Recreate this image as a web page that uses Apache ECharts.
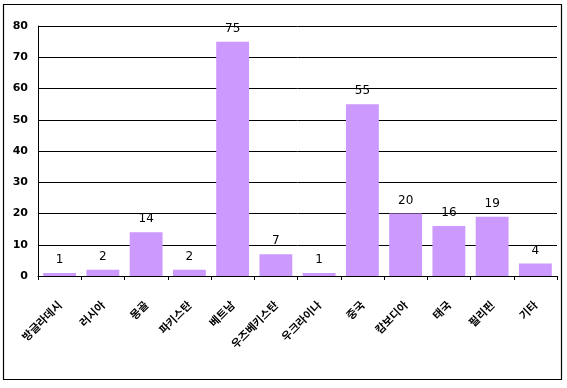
<!DOCTYPE html>
<html>
<head>
<meta charset="utf-8">
<script src="https://cdn.jsdelivr.net/npm/echarts@6/dist/echarts.min.js"></script>
<style>
html,body{margin:0;padding:0;background:#fff;}
#c{width:567px;height:388px;}
</style>
</head>
<body>
<div id="c"></div>
<script>
var categories = ['방글라데시','러시아','몽골','파키스탄','베트남','우즈베키스탄','우크라이나','중국','캄보디아','태국','필리핀','기타'];
var values = [1, 2, 14, 2, 75, 7, 1, 55, 20, 16, 19, 4];
var yTicks = { min: 0, max: 80, interval: 10 };

var chart = echarts.init(document.getElementById('c'), null, {renderer: 'canvas'});
chart.setOption({
  animation: false,
  backgroundColor: '#ffffff',
  grid: { left: 38, right: 10, top: 26, bottom: 112, containLabel: false },
  graphic: [{
    type: 'rect',
    shape: { x: 3.5, y: 4.5, width: 558, height: 375 },
    style: { fill: 'none', stroke: '#000', lineWidth: 1.2 },
    silent: true
  }],
  xAxis: {
    type: 'category',
    data: categories,
    axisLine: { lineStyle: { color: '#000', width: 1 } },
    axisTick: { show: true, length: 4, lineStyle: { color: '#000' } },
    axisLabel: {
      interval: 0, rotate: 45, margin: 27,
      color: '#000', fontSize: 11, fontWeight: 'bold',
      fontFamily: '"Noto Sans CJK KR", sans-serif'
    }
  },
  yAxis: {
    type: 'value',
    min: yTicks.min, max: yTicks.max, interval: yTicks.interval,
    axisLine: { show: true, lineStyle: { color: '#000', width: 1 } },
    axisTick: { show: false },
    splitLine: { show: true, lineStyle: { color: '#000', width: 1 } },
    axisLabel: {
      margin: 10, color: '#000', fontSize: 11, fontWeight: 'bold',
      fontFamily: '"DejaVu Sans", sans-serif'
    }
  },
  series: [{
    type: 'bar',
    data: values,
    barCategoryGap: '24%',
    itemStyle: { color: '#CC99FF' },
    label: {
      show: true, position: 'top', distance: 7,
      color: '#000', fontSize: 12,
      fontFamily: '"DejaVu Sans", sans-serif'
    }
  }]
});
</script>
</body>
</html>
